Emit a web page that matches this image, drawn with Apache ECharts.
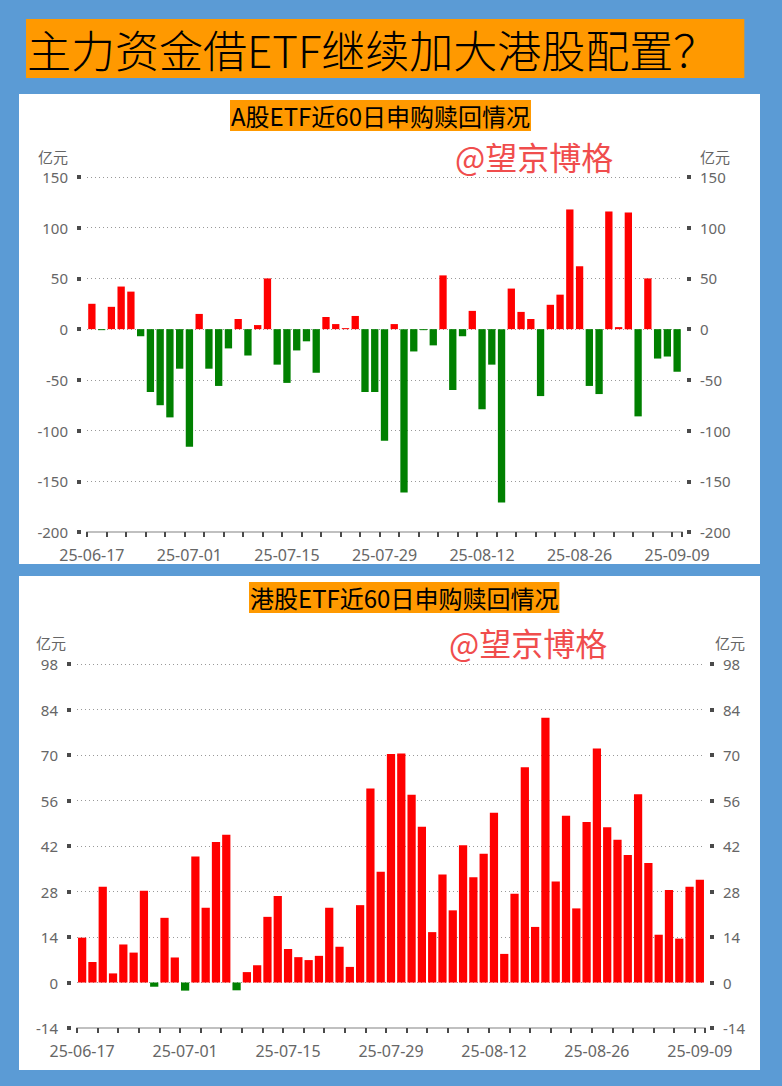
<!DOCTYPE html>
<html lang="zh-CN">
<head>
<meta charset="utf-8">
<title>主力资金借ETF继续加大港股配置？</title>
<script src="https://cdn.jsdelivr.net/npm/echarts@6.0.0/dist/echarts.min.js"></script>
<style>
  html, body { margin: 0; padding: 0; background: #5b9bd5; }
  #chart { width: 782px; height: 1086px; }
</style>
</head>
<body>
<div id="chart"></div>
<script>
// ============================================
// DATA
// ============================================

// 61 trading days, 25-06-17 .. 25-09-09
const tradeDates = [
  '25-06-17', '25-06-18', '25-06-19', '25-06-20', '25-06-23', '25-06-24', '25-06-25', '25-06-26', '25-06-27', '25-06-30',
  '25-07-01', '25-07-02', '25-07-03', '25-07-04', '25-07-07', '25-07-08', '25-07-09', '25-07-10', '25-07-11', '25-07-14',
  '25-07-15', '25-07-16', '25-07-17', '25-07-18', '25-07-21', '25-07-22', '25-07-23', '25-07-24', '25-07-25', '25-07-28',
  '25-07-29', '25-07-30', '25-07-31', '25-08-01', '25-08-04', '25-08-05', '25-08-06', '25-08-07', '25-08-08', '25-08-11',
  '25-08-12', '25-08-13', '25-08-14', '25-08-15', '25-08-18', '25-08-19', '25-08-20', '25-08-21', '25-08-22', '25-08-25',
  '25-08-26', '25-08-27', '25-08-28', '25-08-29', '25-09-01', '25-09-02', '25-09-03', '25-09-04', '25-09-05', '25-09-08',
  '25-09-09'
];

// A股ETF net subscription (亿元)
const aShareFlow = [
  25, -1, 22, 42, 37, -7, -62, -75, -87, -39,
  -116, 15, -39, -56, -19, 10, -26, 4, 50, -35,
  -53, -21, -12, -43, 12, 5, 1, 13, -62, -62,
  -110, 5, -161, -22, -1, -16, 53, -60, -7, 18,
  -79, -35, -171, 40, 17, 10, -66, 24, 34, 118,
  62, -56, -64, 116, 2, 115, -86, 50, -29, -27,
  -42
];

// 港股ETF net subscription (亿元)
const hkShareFlow = [
  13.8, 6.3, 29.5, 2.8, 11.7, 9.2, 28.2, -1.3, 19.9, 7.7,
  -2.5, 38.8, 23.0, 43.2, 45.5, -2.4, 3.2, 5.3, 20.2, 26.6,
  10.3, 7.8, 6.9, 8.2, 23.0, 11.0, 4.8, 23.8, 59.7, 34.1,
  70.3, 70.5, 57.8, 47.9, 15.5, 33.2, 22.2, 42.2, 32.4, 39.6,
  52.2, 8.8, 27.3, 66.2, 17.1, 81.5, 31.1, 51.3, 22.8, 49.4,
  72.0, 47.8, 43.9, 39.2, 57.9, 36.8, 14.7, 28.5, 13.5, 29.5,
  31.6
];

// y-axis scales
const aShareTicks = { min: -200, max: 150, interval: 50 };
const hkShareTicks = { min: -14, max: 98, interval: 14 };

// ============================================
// STYLE
// ============================================

const UP = '#ff0000';
const DOWN = '#008000';
const ORANGE = '#ff9900';
const LABEL = '#666666';
const FONT = '"Noto Sans", "Noto Sans CJK SC", sans-serif';
const CJK = '"Noto Sans CJK SC", sans-serif';

function valueAxes(gridIndex, ticks, nameGap, namePad) {
  const common = {
    type: 'value',
    gridIndex: gridIndex,
    min: ticks.min,
    max: ticks.max,
    interval: ticks.interval,
    name: '亿元',
    nameLocation: 'end',
    nameGap: nameGap,
    axisLine: { show: false },
    axisTick: { show: true, length: 4, lineStyle: { color: '#4a4a4a', width: 4 } },
    axisLabel: { color: LABEL, fontSize: 15, margin: 13, fontFamily: FONT }
  };
  return [
    Object.assign({}, common, {
      position: 'left',
      offset: 6,
      nameTextStyle: {
        color: LABEL, fontSize: 15, fontFamily: CJK,
        align: 'right', verticalAlign: 'middle', padding: [0, namePad, 0, 0]
      },
      splitLine: { show: true, lineStyle: { color: '#999', type: [1, 3] } }
    }),
    Object.assign({}, common, {
      position: 'right',
      offset: 5,
      nameTextStyle: {
        color: LABEL, fontSize: 15, fontFamily: CJK,
        align: 'left', verticalAlign: 'middle', padding: [0, 0, 0, namePad]
      },
      splitLine: { show: false }
    })
  ];
}

function dateAxis(gridIndex) {
  return {
    type: 'category',
    gridIndex: gridIndex,
    data: tradeDates,
    boundaryGap: true,
    axisLine: { onZero: false, lineStyle: { color: '#c0c0c0', width: 2 } },
    axisTick: { show: true, interval: 1, length: 5, lineStyle: { color: '#4a4a4a', width: 2 } },
    axisLabel: { interval: 9, color: LABEL, fontSize: 16, margin: 15, fontFamily: FONT }
  };
}

function boxTitle(text, left, top) {
  return {
    text: text,
    left: left,
    top: top,
    backgroundColor: ORANGE,
    padding: [0, 1],
    textStyle: { color: '#000', fontSize: 24, lineHeight: 31, fontWeight: 'normal', fontFamily: CJK }
  };
}

function watermark(left, top) {
  return {
    text: '@望京博格',
    left: left,
    top: top,
    padding: 0,
    textStyle: { color: '#f04d4d', fontSize: 32, lineHeight: 32, fontWeight: 'normal', fontFamily: CJK }
  };
}

function flowColor(p) {
  return p.value >= 0 ? UP : DOWN;
}

// ============================================
// CHART
// ============================================

const chart = echarts.init(document.getElementById('chart'), null, { renderer: 'svg' });

const aAxes = valueAxes(0, aShareTicks, 21, 13);
const hkAxes = valueAxes(1, hkShareTicks, 22, 5);

chart.setOption({
  backgroundColor: '#5b9bd5',
  animation: false,
  graphic: [
    { type: 'rect', silent: true, shape: { x: 19, y: 94, width: 741, height: 470 }, style: { fill: '#fff' } },
    { type: 'rect', silent: true, shape: { x: 19, y: 576, width: 741, height: 494 }, style: { fill: '#fff' } }
  ],
  title: [
    {
      text: '主力资金借ETF继续加大港股配置？',
      left: 26,
      top: 19,
      backgroundColor: ORANGE,
      padding: [0, 27, 0, 1],
      textStyle: { color: '#000', fontSize: 44, lineHeight: 59, fontWeight: 300, fontFamily: CJK }
    },
    boxTitle('A股ETF近60日申购赎回情况', 230, 100),
    boxTitle('港股ETF近60日申购赎回情况', 249, 582),
    watermark(455, 140),
    watermark(449, 626)
  ],
  grid: [
    { left: 87, top: 177, width: 595, height: 355, outerBoundsMode: 'none' },
    { left: 77, top: 664, width: 628, height: 364, outerBoundsMode: 'none' }
  ],
  xAxis: [dateAxis(0), dateAxis(1)],
  yAxis: [aAxes[0], aAxes[1], hkAxes[0], hkAxes[1]],
  series: [
    {
      name: 'A股ETF',
      type: 'bar',
      xAxisIndex: 0,
      yAxisIndex: 0,
      data: aShareFlow,
      barCategoryGap: '25%',
      itemStyle: { color: flowColor }
    },
    {
      name: '港股ETF',
      type: 'bar',
      xAxisIndex: 1,
      yAxisIndex: 2,
      data: hkShareFlow,
      barCategoryGap: '20%',
      itemStyle: { color: flowColor }
    }
  ]
});
</script>
</body>
</html>
